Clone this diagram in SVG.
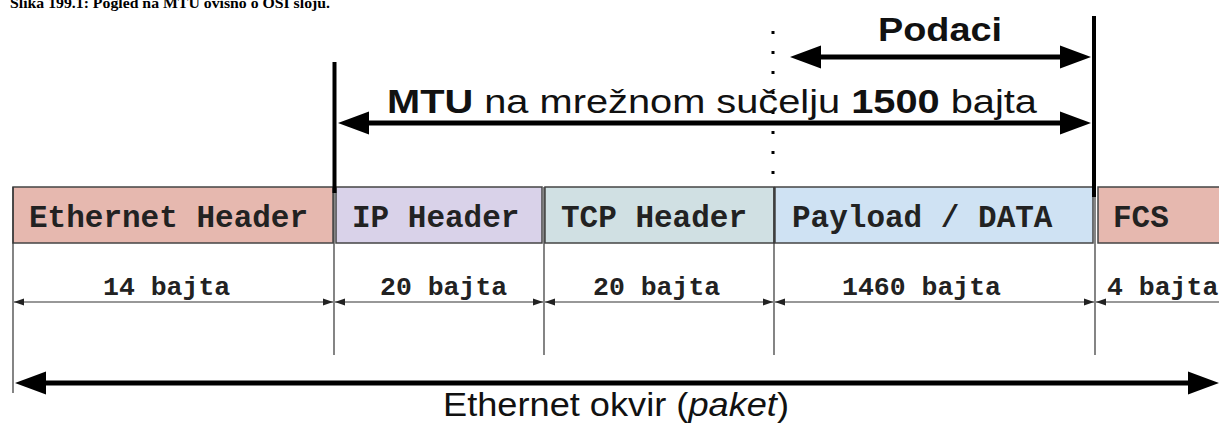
<svg xmlns="http://www.w3.org/2000/svg" width="1219" height="423" viewBox="0 0 1219 423">
<style>
.box{stroke:#444;stroke-width:1.5}
.cell{font-family:"Liberation Mono","Courier New",monospace;font-weight:bold;font-size:31px;fill:#222}
.size{font-family:"Liberation Mono","Courier New",monospace;font-weight:bold;font-size:26.5px;fill:#222}
.big{font-family:"Liberation Sans",Arial,sans-serif;fill:#111}
.thin{stroke:#333;stroke-width:1.2}
.dim{stroke:#333;stroke-width:1.2;marker-start:url(#sm);marker-end:url(#sm)}
.fat{stroke:#000;stroke-width:5;marker-start:url(#bg);marker-end:url(#bg)}
</style>
<defs>
<marker id="bg" markerUnits="userSpaceOnUse" markerWidth="32" markerHeight="24" viewBox="0 -12 31 24" refX="0" refY="0" orient="auto-start-reverse"><path d="M0,-11.5 L31,0 L0,11.5 z" fill="#000"/></marker>
<marker id="sm" markerUnits="userSpaceOnUse" markerWidth="11" markerHeight="8" viewBox="0 -4 10 8" refX="10" refY="0" orient="auto-start-reverse"><path d="M0,-3.5 L10,0 L0,3.5 z" fill="#222"/></marker>
</defs>
<text x="10" y="8" font-family="Liberation Serif,Times New Roman,serif" font-weight="bold" font-size="15" textLength="320" lengthAdjust="spacingAndGlyphs" fill="#000">Slika 199.1: Pogled na MTU ovisno o OSI sloju.</text>

<g id="eth-header"><rect class="box" x="13" y="187" width="320" height="56" fill="#e6b8af"/><text class="cell" x="29" y="227">Ethernet Header</text></g>
<g id="ip-header"><rect class="box" x="336" y="187" width="206" height="56" fill="#d9d2e9"/><text class="cell" x="352" y="227">IP Header</text></g>
<g id="tcp-header"><rect class="box" x="545" y="187" width="229" height="56" fill="#d0e0e3"/><text class="cell" x="561" y="227">TCP Header</text></g>
<g id="payload"><rect class="box" x="775" y="187" width="318" height="56" fill="#cfe2f3"/><text class="cell" x="792" y="227">Payload / DATA</text></g>
<g id="fcs"><rect class="box" x="1098" y="187" width="125" height="56" fill="#e6b8af"/><text class="cell" x="1113" y="227">FCS</text></g>

<g id="sizes">
<text class="size" x="103" y="295">14 bajta</text>
<text class="size" x="380" y="295">20 bajta</text>
<text class="size" x="593" y="295">20 bajta</text>
<text class="size" x="842" y="295">1460 bajta</text>
<text class="size" x="1107" y="295">4 bajta</text>
</g>

<g id="connectors">
<line class="thin" x1="13" y1="187" x2="13" y2="393"/>
<line class="thin" x1="334" y1="187" x2="334" y2="355"/>
<line class="thin" x1="544" y1="187" x2="544" y2="355"/>
<line class="thin" x1="774" y1="187" x2="774" y2="355"/>
<line class="thin" x1="1095" y1="187" x2="1095" y2="355"/>
<line class="dim" x1="14" y1="302" x2="333" y2="302"/>
<line class="dim" x1="335" y1="302" x2="543" y2="302"/>
<line class="dim" x1="545" y1="302" x2="773" y2="302"/>
<line class="dim" x1="775" y1="302" x2="1094" y2="302"/>
<line class="dim" x1="1096" y1="302" x2="1240" y2="302"/>
<line x1="334.5" y1="62" x2="334.5" y2="193" stroke="#000" stroke-width="4"/>
<line x1="1094" y1="16" x2="1094" y2="197" stroke="#000" stroke-width="4"/>
<line x1="773" y1="31" x2="773" y2="190" stroke="#000" stroke-width="3" stroke-dasharray="3 17"/>
<line class="fat" x1="369" y1="123" x2="1060" y2="123"/>
<line class="fat" x1="821" y1="57" x2="1060" y2="57"/>
<line class="fat" x1="46" y1="383" x2="1188" y2="383"/>
</g>

<text class="big" x="878" y="41" font-size="34" font-weight="bold" textLength="124" lengthAdjust="spacingAndGlyphs">Podaci</text>
<text class="big" x="387" y="113" font-size="34" textLength="650" lengthAdjust="spacingAndGlyphs"><tspan font-weight="bold">MTU</tspan> na mrežnom sučelju <tspan font-weight="bold">1500</tspan> bajta</text>
<text class="big" x="443" y="416" font-size="34" textLength="346" lengthAdjust="spacingAndGlyphs">Ethernet okvir (<tspan font-style="italic">paket</tspan>)</text>
</svg>
